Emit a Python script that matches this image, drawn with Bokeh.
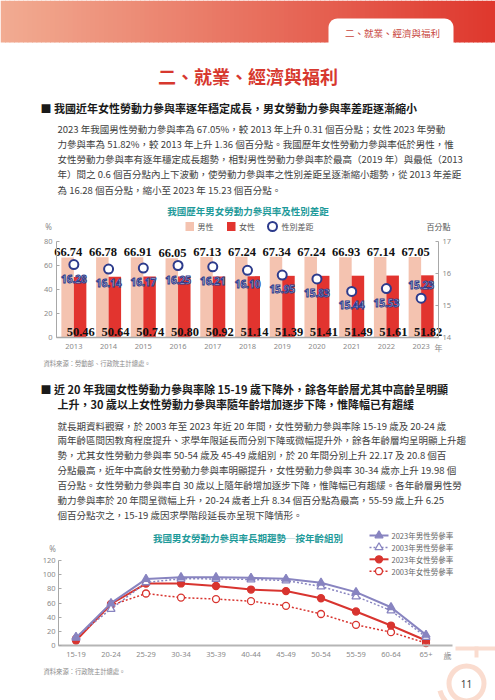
import numpy as np
from bokeh.plotting import figure
from bokeh.models import Range1d, LinearAxis, ColumnDataSource, FixedTicker
from bokeh.embed import file_html
from bokeh.resources import INLINE
from bokeh.core.properties import value
from bokeh.transform import dodge

# ---------------- data ----------------
years = ["2013", "2014", "2015", "2016", "2017", "2018", "2019", "2020", "2021", "2022", "2023"]
male_rate = [66.74, 66.78, 66.91, 66.05, 67.13, 67.24, 67.34, 67.24, 66.93, 67.14, 67.05]
female_rate = [50.46, 50.64, 50.74, 50.80, 50.92, 51.14, 51.39, 51.41, 51.49, 51.61, 51.82]
gender_gap = [16.28, 16.14, 16.17, 16.25, 16.21, 16.10, 15.95, 15.83, 15.44, 15.53, 15.23]
rate_ticks = [0, 20, 40, 60, 80]
gap_ticks = [14, 15, 16, 17]

age_groups = ["15-19", "20-24", "25-29", "30-34", "35-39", "40-44", "45-49", "50-54", "55-59", "60-64", "65+"]
male_2023 = [10.8, 59.8, 93.8, 96.5, 96.4, 95.5, 94.1, 88.5, 75.4, 54.0, 15.0]
male_2003 = [12.2, 51.5, 89.0, 94.2, 94.0, 93.2, 91.8, 83.3, 69.2, 49.4, 12.0]
female_2023 = [7.0, 58.6, 87.5, 87.6, 84.0, 79.0, 76.8, 66.7, 48.0, 28.2, 7.0]
female_2003 = [9.6, 56.8, 73.4, 67.6, 65.5, 62.6, 56.0, 44.5, 29.2, 18.8, 3.5]
age_ticks = [0, 20, 40, 60, 80, 100, 120]

section_title = "二、就業、經濟與福利"
heading1 = "■ 我國近年女性勞動力參與率逐年穩定成長，男女勞動力參與率差距逐漸縮小"
para1 = [
    "2023 年我國男性勞動力參與率為 67.05%，較 2013 年上升 0.31 個百分點；女性 2023 年勞動",
    "力參與率為 51.82%，較 2013 年上升 1.36 個百分點。我國歷年女性勞動力參與率低於男性，惟",
    "女性勞動力參與率有逐年穩定成長趨勢，相對男性勞動力參與率於最高（2019 年）與最低（2013",
    "年）間之 0.6 個百分點內上下波動，使勞動力參與率之性別差距呈逐漸縮小趨勢，從 2013 年差距",
    "為 16.28 個百分點，縮小至 2023 年 15.23 個百分點。",
]
chart1_title = "我國歷年男女勞動力參與率及性別差距"
source1 = "資料來源：勞動部、行政院主計總處。"
heading2 = [
    "■ 近 20 年我國女性勞動力參與率除 15-19 歲下降外，餘各年齡層尤其中高齡呈明顯",
    "上升，30 歲以上女性勞動力參與率隨年齡增加逐步下降，惟降幅已有趨緩",
]
para2 = [
    "就長期資料觀察，於 2003 年至 2023 年近 20 年間，女性勞動力參與率除 15-19 歲及 20-24 歲",
    "兩年齡區間因教育程度提升、求學年限延長而分別下降或微幅提升外，餘各年齡層均呈明顯上升趨",
    "勢，尤其女性勞動力參與率 50-54 歲及 45-49 歲組別，於 20 年間分別上升 22.17 及 20.8 個百",
    "分點最高，近年中高齡女性勞動力參與率明顯提升，女性勞動力參與率 30-34 歲亦上升 19.98 個",
    "百分點。女性勞動力參與率自 30 歲以上隨年齡增加逐步下降，惟降幅已有趨緩。各年齡層男性勞",
    "動力參與率於 20 年間呈微幅上升，20-24 歲者上升 8.34 個百分點為最高，55-59 歲上升 6.25",
    "個百分點次之，15-19 歲因求學階段延長亦呈現下降情形。",
]
chart2_title = "我國男女勞動力參與率長期趨勢─按年齡組別"
legend2 = ["2023年男性勞參率", "2003年男性勞參率", "2023年女性勞參率", "2003年女性勞參率"]
source2 = "資料來源：行政院主計總處。"

# ---------------- styles ----------------
W, H = 495, 700
CJK = "Noto Sans CJK TC"
TXT = "#404040"
TEAL = "#1e9a9a"
RED_T = "#d7382e"
NAVY = "#2d3b8c"
MALE_C = "#f4c3b0"
FEMALE_C = "#e2342f"
PURPLE = "#8884c0"
RED_L = "#d8342f"
AXIS_C = "#a8a8a8"
TICK_TXT = "#8a8a8a"
PEACH = "#fadccf"

p = figure(width=W, height=H, x_range=Range1d(0, W), y_range=Range1d(H, 0),
           x_axis_type=None, y_axis_type=None, output_backend="svg",
           toolbar_location=None, min_border=0)
p.outline_line_color = None
p.grid.visible = False

# chart geometry (page pixels) -> ranges for the two charts
C1_L, C1_R, C1_T, C1_B = 56, 438, 241, 337
C2_L, C2_R, C2_B, C2_T120 = 58, 452, 645, 560
s1x = (C1_R - C1_L) / len(years)          # px per year
s1y = (C1_B - C1_T) / 80.0                # px per %
s1g = (C1_B - C1_T) / 3.0                 # px per gap point
s2x = 35.0
s2y = (C2_B - C2_T120) / 120.0
p.extra_x_ranges = {
    "c1x": Range1d(-0.5 - C1_L / s1x, -0.5 + (W - C1_L) / s1x),
    "c2x": Range1d(-0.5 - C2_L / s2x, -0.5 + (W - C2_L) / s2x),
}
p.extra_y_ranges = {
    "c1y": Range1d((C1_B - H) / s1y, C1_B / s1y),
    "c1g": Range1d(14 - (H - C1_B) / s1g, 14 + C1_B / s1g),
    "c2y": Range1d((C2_B - H) / s2y, C2_B / s2y),
}


def txt(x, y, s, size, color, bold=False, align="left", font=CJK):
    p.text(x=[x], y=[y], text=[s], text_font=value(font), text_font_size=f"{size}px",
           text_color=color, text_font_style="bold" if bold else "normal",
           text_align=align, text_baseline="middle")


def style_axis(ax, tick_in=3):
    ax.axis_line_color = AXIS_C
    ax.major_tick_line_color = AXIS_C
    ax.major_tick_in = tick_in
    ax.major_tick_out = 0
    ax.minor_tick_line_color = None
    ax.major_label_text_font_size = "7.5px"
    ax.major_label_text_color = TICK_TXT
    ax.major_label_text_font = "Noto Sans"


# ---------------- page decoration (bottom right) ----------------
p.annular_wedge(x=[466], y=[683], inner_radius=25, outer_radius=30,
                start_angle=np.radians(195), end_angle=np.radians(255),
                fill_color=PEACH, line_color=None)
p.annulus(x=[466], y=[683], inner_radius=15, outer_radius=20, fill_color=PEACH, line_color=None)
p.quad(left=455, right=495, top=646, bottom=650, fill_color=PEACH, line_color=None)
p.quad(left=474, right=478, top=646, bottom=657, fill_color=PEACH, line_color=None)

# ---------------- header ----------------
n = 110
edges = np.linspace(0, W, n + 1)
c0 = np.array([242, 172, 146])
c1 = np.array([223, 56, 46])
cols = ['#%02x%02x%02x' % tuple((c0 + (c1 - c0) * t).astype(int)) for t in np.linspace(0, 1, n)]
p.quad(left=edges[:-1], right=edges[1:] + 0.8, top=0, bottom=42, fill_color=cols, line_color=None)
r = 9
tx0, tx1, ty0, ty1 = 328, 453, 18, 43
aL = np.linspace(np.pi, 1.5 * np.pi, 10)
aR = np.linspace(1.5 * np.pi, 2 * np.pi, 10)
xs = [tx0] + list(tx0 + r + r * np.cos(aL)) + list(tx1 - r + r * np.cos(aR)) + [tx1]
ys = [ty1] + list(ty0 + r + r * np.sin(aL)) + list(ty0 + r + r * np.sin(aR)) + [ty1]
p.patch(xs, ys, fill_color="white", line_color=None)
txt(392, 32, section_title, 9.5, "#c8453c", align="center")

txt(247.5, 75, section_title, 18, RED_T, bold=True, align="center")
txt(40, 107, heading1, 11, "#1a1a1a", bold=True)
for i, line in enumerate(para1):
    txt(57, 128 + i * 15.25, line, 9.5, TXT)

# ---------------- chart 1 ----------------
txt(247.5, 210, chart1_title, 9.5, TEAL, bold=True, align="center")
txt(48, 226, "%", 8, TICK_TXT, align="center", font="Noto Sans")
p.quad(left=185, right=193.5, top=221.5, bottom=230.5, fill_color=MALE_C, line_color=None)
txt(197, 226, "男性", 8, "#555555")
p.quad(left=226.5, right=235, top=221.5, bottom=230.5, fill_color=FEMALE_C, line_color=None)
txt(238.5, 226, "女性", 8, "#555555")
p.scatter(x=[272], y=[226], size=9, fill_color="white", line_color=NAVY, line_width=2)
txt(281, 226, "性別差距", 8, "#555555")
txt(450, 226, "百分點", 8, "#555555", align="right")

idx1 = list(range(len(years)))
src1 = ColumnDataSource(dict(
    i=idx1, male=male_rate, female=female_rate, gap=gender_gap,
    male_lbl=[f"{v:.2f}" for v in male_rate],
    female_lbl=[f"{v:.2f}" for v in female_rate],
    gap_lbl=[f"{v:.2f}" for v in gender_gap],
    gap_off=[14 if k < len(years) - 1 else -13 for k in idx1],
))
R1 = dict(x_range_name="c1x", y_range_name="c1y")
p.vbar(x=dodge("i", -0.18), top="male", width=0.36, source=src1,
       fill_color=MALE_C, line_color=None, **R1)
p.vbar(x=dodge("i", 0.18), top="female", width=0.36, source=src1,
       fill_color=FEMALE_C, line_color=None, **R1)
p.text(x=dodge("i", -0.16), y="male", text="male_lbl", source=src1,
       text_font=value("Liberation Sans Narrow"), text_font_style="bold", text_font_size="12.5px",
       text_color="#111111", text_align="center", text_baseline="bottom", y_offset=-1, **R1)
p.text(x=dodge("i", 0.2), y=0, text="female_lbl", source=src1,
       text_font=value("Liberation Sans Narrow"), text_font_style="bold", text_font_size="12.5px",
       text_color="#111111", text_align="center", text_baseline="bottom", y_offset=-2, **R1)
p.scatter(x="i", y="gap", source=src1, size=9, fill_color="white", line_color=NAVY,
          line_width=2, x_range_name="c1x", y_range_name="c1g")
p.text(x="i", y="gap", text="gap_lbl", source=src1, y_offset="gap_off",
       text_font=value("Noto Sans"), text_font_style="bold", text_font_size="10px",
       text_color="white", text_outline_color=NAVY, text_align="center", text_baseline="middle",
       x_range_name="c1x", y_range_name="c1g")

ax1l = LinearAxis(x_range_name="c1x", y_range_name="c1y", fixed_location=-0.5,
                  bounds=(0, 80), ticker=FixedTicker(ticks=rate_ticks))
style_axis(ax1l)
ax1l.major_label_standoff = 4
p.add_layout(ax1l, "left")
ax1r = LinearAxis(x_range_name="c1x", y_range_name="c1g", fixed_location=len(years) - 0.5,
                  bounds=(14, 17), ticker=FixedTicker(ticks=gap_ticks))
style_axis(ax1r)
ax1r.major_label_standoff = 4
p.add_layout(ax1r, "right")
ax1b = LinearAxis(x_range_name="c1x", y_range_name="c1y", fixed_location=0,
                  bounds=(-0.5, len(years) - 0.5), ticker=FixedTicker(ticks=idx1),
                  major_label_overrides={k: y for k, y in enumerate(years)})
style_axis(ax1b, tick_in=0)
ax1b.axis_line_width = 1.5
ax1b.major_tick_line_color = None
ax1b.major_label_standoff = 6
p.add_layout(ax1b, "below")
p.text(x=[len(years) - 0.5], y=[-8.3], text=["年"], text_font=value(CJK), text_font_size="8px",
       text_color=TICK_TXT, text_align="center", text_baseline="middle", **R1)
txt(43, 363, source1, 6.3, "#8a8a8a")

# ---------------- middle text ----------------
txt(40, 388, heading2[0], 11, "#1a1a1a", bold=True)
txt(57, 403, heading2[1], 11, "#1a1a1a", bold=True)
for i, line in enumerate(para2):
    txt(57, 425 + i * 14.85, line, 9.5, TXT)

# ---------------- chart 2 ----------------
txt(247.5, 537, chart2_title, 9.5, TEAL, bold=True, align="center")
R2 = dict(x_range_name="c2x", y_range_name="c2y")
xi = list(range(len(age_groups)))
series = [
    (female_2003, RED_L, "2 2", "circle", False, 1.5),
    (female_2023, RED_L, "solid", "circle", True, 2),
    (male_2003, PURPLE, "2 2", "triangle", False, 1.5),
    (male_2023, PURPLE, "solid", "triangle", True, 2),
]
for vals, col, dash, mk, filled, lw in series:
    p.line(xi, vals, line_color=col, line_width=lw, line_dash=dash, **R2)
    p.scatter(xi, vals, marker=mk, size=8 if mk == "triangle" else 7,
              fill_color=col if filled else "white", line_color=col, line_width=1.3, **R2)

ax2l = LinearAxis(x_range_name="c2x", y_range_name="c2y", fixed_location=-0.5,
                  bounds=(0, 120), ticker=FixedTicker(ticks=age_ticks))
style_axis(ax2l)
ax2l.major_label_standoff = 3
p.add_layout(ax2l, "left")
ax2b = LinearAxis(x_range_name="c2x", y_range_name="c2y", fixed_location=0,
                  bounds=(-0.5, -0.5 + (C2_R - C2_L) / s2x), ticker=FixedTicker(ticks=xi),
                  major_label_overrides={k: a for k, a in enumerate(age_groups)})
style_axis(ax2b, tick_in=0)
ax2b.axis_line_color = "#b5b5b5"
ax2b.axis_line_width = 2
ax2b.major_tick_line_color = None
ax2b.major_label_standoff = 6
p.add_layout(ax2b, "below")
txt(52, 548, "%", 8, TICK_TXT, align="center", font="Noto Sans")
txt(447, 655, "歲", 8, TICK_TXT, align="center")

leg_style = [series[3], series[2], series[1], series[0]]
for i, (lab, st) in enumerate(zip(legend2, leg_style)):
    _, col, dash, mk, filled, lw = st
    py = 535 + i * 11.9
    p.line([369, 388], [py, py], line_color=col, line_width=lw, line_dash=dash)
    p.scatter([378.5], [py], marker=mk, size=8 if mk == "triangle" else 7,
              fill_color=col if filled else "white", line_color=col, line_width=1.3)
    txt(391, py, lab, 7.5, "#666666")

txt(43, 671, source2, 6.3, "#8a8a8a")
txt(466, 683, "11", 10, "#444444", align="center", font="Noto Sans")

open("out.html", "w").write(file_html(p, INLINE))
